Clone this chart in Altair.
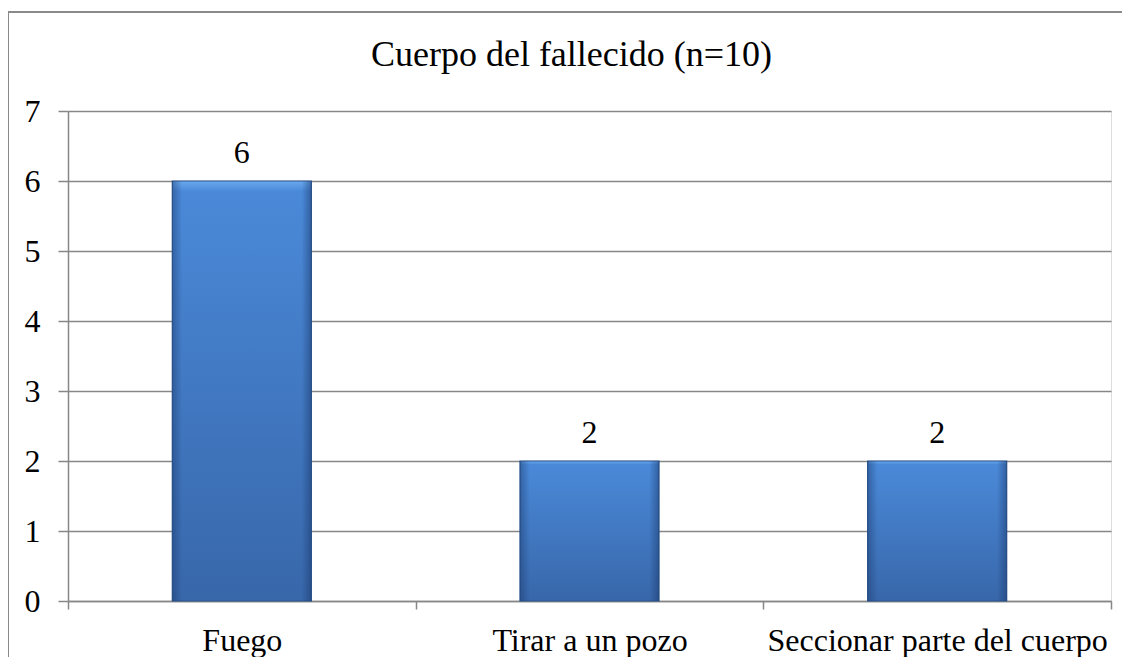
import altair as alt
import pandas as pd

categories = ["Fuego", "Tirar a un pozo", "Seccionar parte del cuerpo"]
values = [6, 2, 2]
title_text = "Cuerpo del fallecido (n=10)"
y_ticks = [0, 1, 2, 3, 4, 5, 6, 7]

df = pd.DataFrame({"cat": categories, "val": values})
frame_df = pd.DataFrame({"k": [0]})

FONT = "'Liberation Serif', 'Times New Roman', Times, serif"
GRID = "#878787"

x_enc = alt.X(
    "cat:N", sort=categories, title=None,
    scale=alt.Scale(paddingInner=0, paddingOuter=0),
    axis=alt.Axis(tickBand="extent", labelAngle=0, labelFont=FONT, labelFontSize=32,
                  labelColor="black", labelLimit=2000, tickSize=8, tickColor=GRID,
                  tickWidth=1.5, domainColor=GRID, domainWidth=1.5, labelPadding=16,
                  grid=False),
)
y_enc = alt.Y(
    "val:Q", title=None, scale=alt.Scale(domain=[0, 7], nice=False),
    axis=alt.Axis(values=y_ticks, format="d", grid=True, gridColor=GRID, gridWidth=1.5,
                  tickSize=10, tickColor=GRID, tickWidth=1.5, domainColor=GRID,
                  domainWidth=1.5, labelFont=FONT, labelFontSize=32, labelColor="black",
                  labelPadding=18),
)

bar_fill = alt.Gradient(
    gradient="linear", x1=0, y1=0, x2=0, y2=1,
    stops=[
        alt.GradientStop(offset=0, color="#6aa8ee"),
        alt.GradientStop(offset=0.025, color="#4a89d8"),
        alt.GradientStop(offset=1, color="#3867aa"),
    ],
)
edge_fill = alt.Gradient(
    gradient="linear", x1=0, y1=0, x2=1, y2=0,
    stops=[
        alt.GradientStop(offset=0, color="rgba(25,55,105,0.45)"),
        alt.GradientStop(offset=0.07, color="rgba(25,55,105,0)"),
        alt.GradientStop(offset=0.93, color="rgba(25,55,105,0)"),
        alt.GradientStop(offset=1, color="rgba(25,55,105,0.5)"),
    ],
)

frame = alt.Chart(frame_df).mark_rect(fill=None, stroke="#8a8a8a", strokeWidth=2).encode(
    x=alt.value(-60), x2=alt.value(1300), y=alt.value(-99), y2=alt.value(900)
)

bars = alt.Chart(df).mark_bar(
    width=alt.RelativeBandSize(0.4), fill=bar_fill, stroke="#2c5690", strokeWidth=1.2
).encode(x=x_enc, y=y_enc)

edges = alt.Chart(df).mark_bar(
    width=alt.RelativeBandSize(0.4), fill=edge_fill
).encode(x=x_enc, y=y_enc)

labels = alt.Chart(df).mark_text(
    dy=-18, baseline="alphabetic", font=FONT, fontSize=32, color="black"
).encode(x=x_enc, y=y_enc, text=alt.Text("val:Q", format="d"))

chart = alt.layer(frame, bars, edges, labels).properties(
    width=1043, height=490,
    autosize=alt.AutoSizeParams(type="none"),
    padding={"left": 60, "top": 103, "right": 11, "bottom": 56},
    title=alt.TitleParams(title_text, font=FONT, fontSize=36, fontWeight="normal",
                          color="black", anchor="middle", frame="group",
                          baseline="alphabetic", offset=-91, dx=-18),
).configure_view(stroke=None).configure(background="white")

chart.save("out.html", embed_options={"renderer": "svg", "actions": False})
